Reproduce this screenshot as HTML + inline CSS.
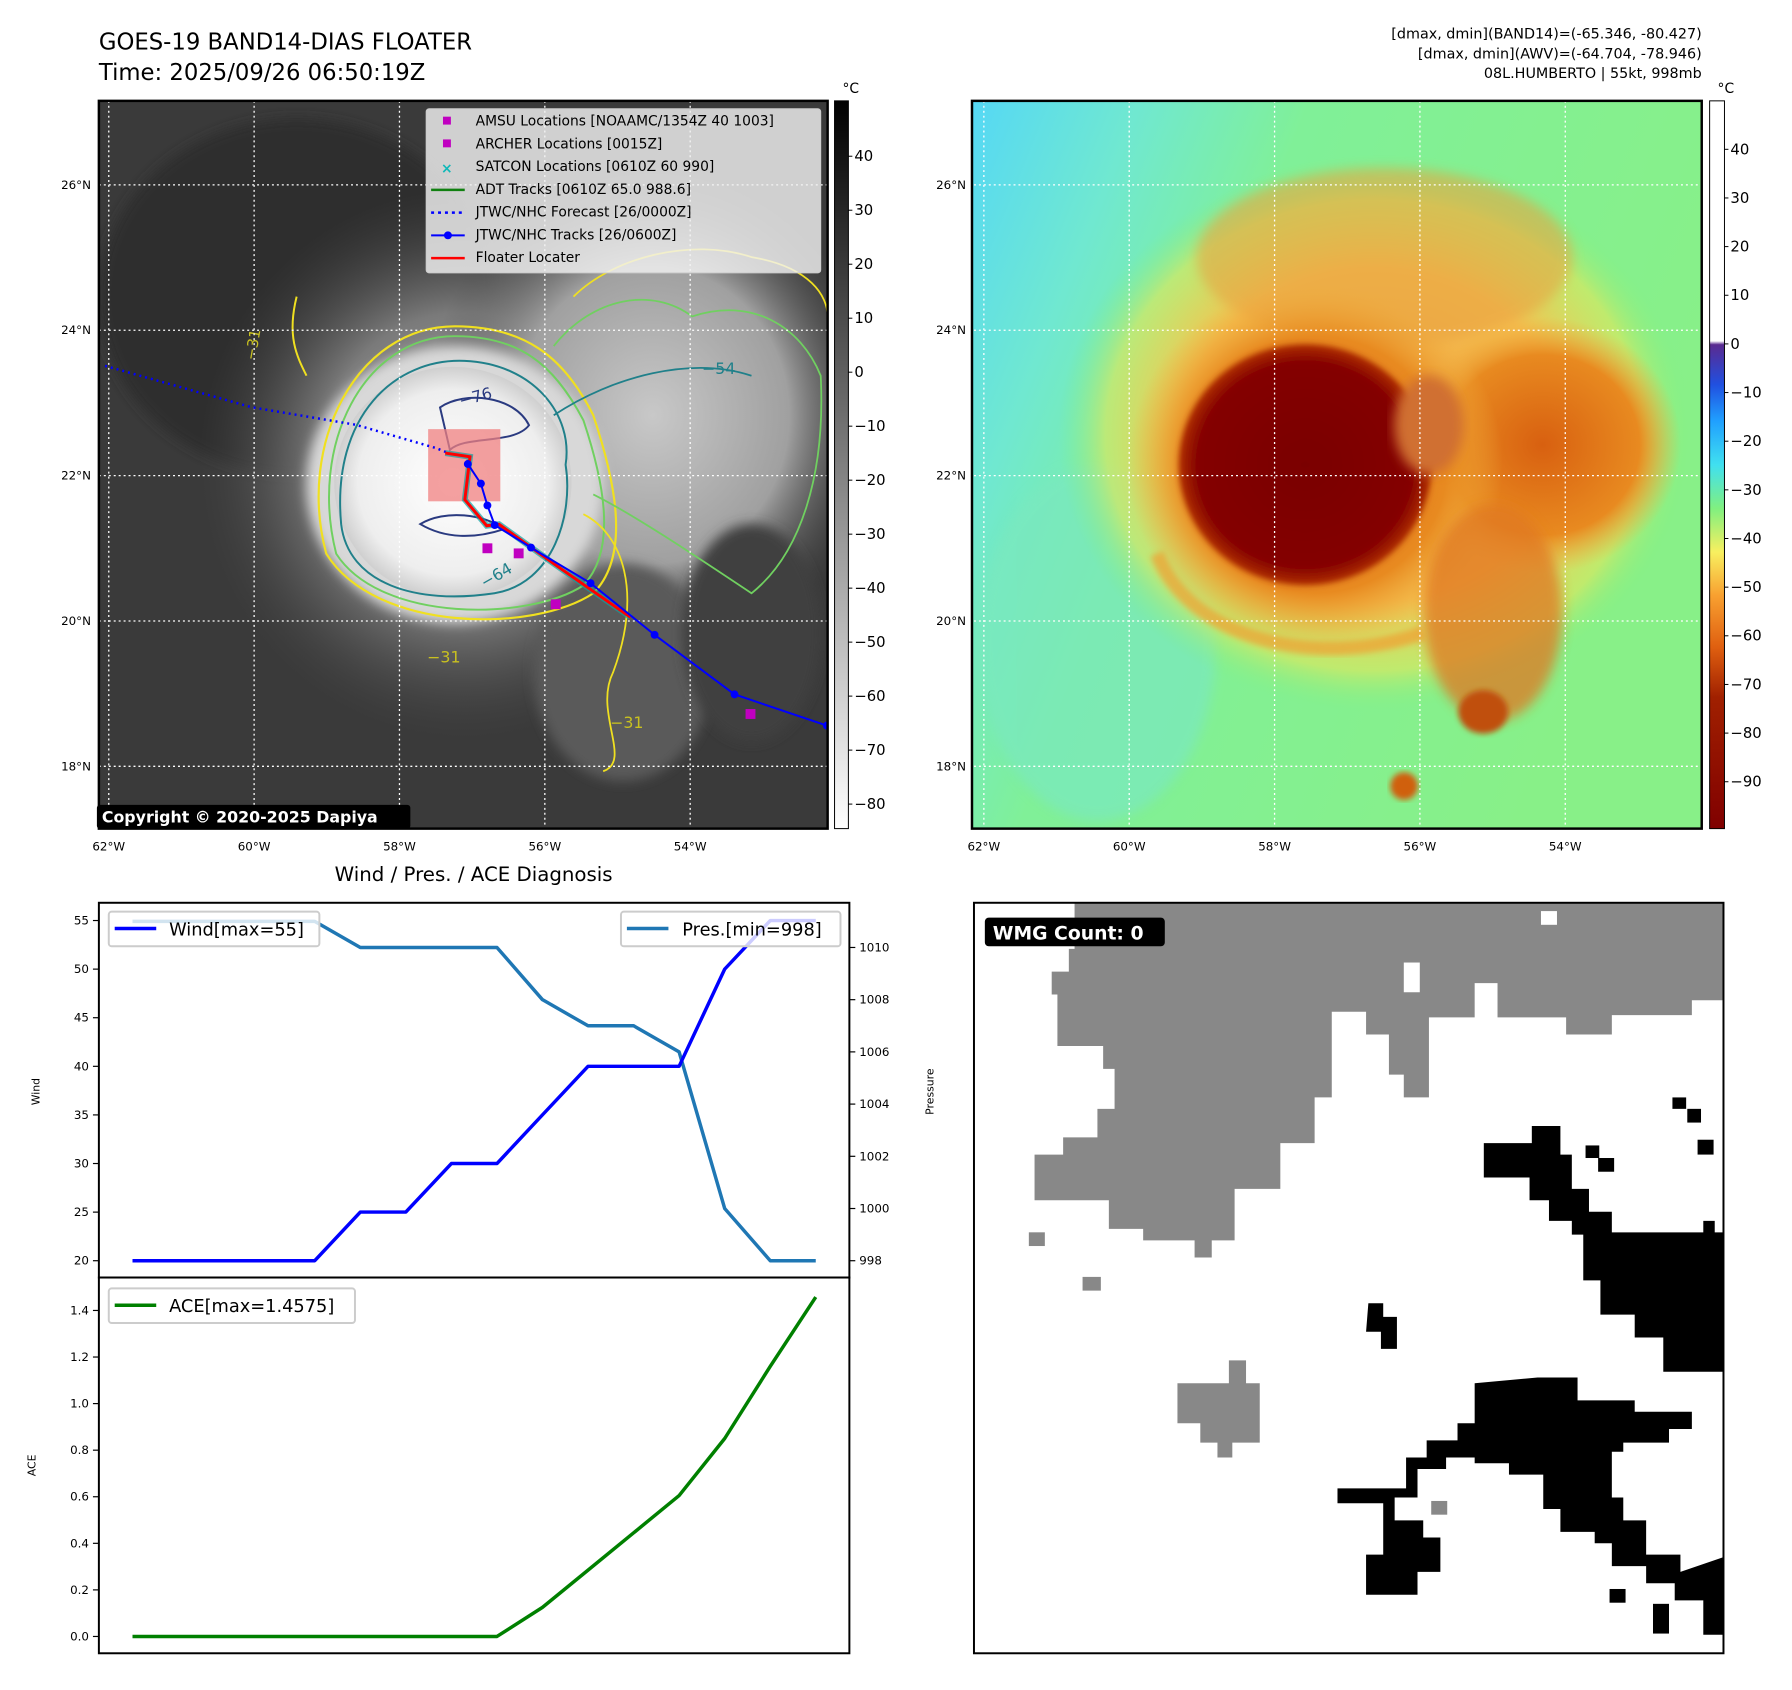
<!DOCTYPE html>
<html><head><meta charset="utf-8">
<style>
html,body{margin:0;padding:0;background:#fff;}
svg{display:block;font-family:"DejaVu Sans","Liberation Sans",sans-serif;}
</style></head>
<body>
<svg id="root" width="1792" height="1690" viewBox="0 0 1792 1690" xmlns="http://www.w3.org/2000/svg">
<defs>
  <radialGradient id="haze1" cx="0.5" cy="0.5" r="0.5">
    <stop offset="0" stop-color="#b0b0b0"/><stop offset="0.55" stop-color="#7a7a7a"/><stop offset="1" stop-color="#444" stop-opacity="0"/>
  </radialGradient>
  <radialGradient id="ne1" cx="0.5" cy="0.5" r="0.5">
    <stop offset="0" stop-color="#c8c8c8"/><stop offset="0.6" stop-color="#a0a0a0"/><stop offset="1" stop-color="#505050" stop-opacity="0"/>
  </radialGradient>
  <radialGradient id="core1" cx="0.5" cy="0.5" r="0.5">
    <stop offset="0" stop-color="#ffffff"/><stop offset="0.8" stop-color="#eeeeee"/><stop offset="1" stop-color="#cfcfcf"/>
  </radialGradient>
  <radialGradient id="env2" cx="0.5" cy="0.5" r="0.5">
    <stop offset="0" stop-color="#f0a040"/><stop offset="0.6" stop-color="#f5c050"/><stop offset="0.85" stop-color="#d8e860" stop-opacity="0.7"/><stop offset="1" stop-color="#80f080" stop-opacity="0"/>
  </radialGradient>
  <radialGradient id="orange2" cx="0.5" cy="0.5" r="0.5">
    <stop offset="0" stop-color="#d86010"/><stop offset="0.7" stop-color="#e88a20"/><stop offset="1" stop-color="#f0b040" stop-opacity="0"/>
  </radialGradient>
  <radialGradient id="core2" cx="0.5" cy="0.5" r="0.5">
    <stop offset="0" stop-color="#7a0000"/><stop offset="0.85" stop-color="#840000"/><stop offset="1" stop-color="#b03000"/>
  </radialGradient>
  <linearGradient id="bg2" x1="0" y1="0" x2="1" y2="0.4">
    <stop offset="0" stop-color="#55d8f5"/><stop offset="0.2" stop-color="#70e8d0"/><stop offset="0.4" stop-color="#80f098"/><stop offset="1" stop-color="#88f088"/>
  </linearGradient>
  <linearGradient id="cb1" x1="0" y1="0" x2="0" y2="1">
    <stop offset="0" stop-color="#000"/><stop offset="1" stop-color="#fff"/>
  </linearGradient>
  <linearGradient id="cb2" x1="0" y1="0" x2="0" y2="1">
    <stop offset="0" stop-color="#ffffff"/><stop offset="0.33" stop-color="#ffffff"/>
    <stop offset="0.335" stop-color="#5a2a90"/><stop offset="0.39" stop-color="#2050e0"/><stop offset="0.44" stop-color="#20a0ff"/>
    <stop offset="0.5" stop-color="#40e0f0"/><stop offset="0.56" stop-color="#80f080"/><stop offset="0.62" stop-color="#f8f060"/>
    <stop offset="0.68" stop-color="#f8a030"/><stop offset="0.75" stop-color="#e06010"/><stop offset="0.82" stop-color="#a02000"/><stop offset="1" stop-color="#800000"/>
  </linearGradient>
  <clipPath id="clip1"><rect x="100" y="102" width="737" height="736"/></clipPath>
  <clipPath id="clip2"><rect x="983" y="102" width="738" height="736"/></clipPath>
  <filter id="blur6"><feGaussianBlur stdDeviation="6"/></filter>
  <filter id="blur3"><feGaussianBlur stdDeviation="3"/></filter>
</defs>
<g transform="scale(0.9888)">
<!-- Titles -->
<text x="100" y="50" font-size="23" fill="#000">GOES-19 BAND14-DIAS FLOATER</text>
<text x="100" y="81" font-size="23" fill="#000">Time: 2025/09/26 06:50:19Z</text>
<g font-size="14.5" text-anchor="end" fill="#000">
  <text x="1721" y="39">[dmax, dmin](BAND14)=(-65.346, -80.427)</text>
  <text x="1721" y="59">[dmax, dmin](AWV)=(-64.704, -78.946)</text>
  <text x="1721" y="79">08L.HUMBERTO | 55kt, 998mb</text>
</g>

<!-- MAP 1 -->
<g clip-path="url(#clip1)">
  <rect x="100" y="102" width="737" height="736" fill="#3a3a3a"/>
  <ellipse cx="300" cy="300" rx="200" ry="180" fill="#2e2e2e" filter="url(#blur6)"/>
  <ellipse cx="470" cy="470" rx="270" ry="280" fill="url(#haze1)"/>
  <ellipse cx="660" cy="420" rx="230" ry="250" fill="url(#ne1)"/>
  <ellipse cx="630" cy="680" rx="90" ry="110" fill="#5a5a5a" filter="url(#blur6)"/>
  <ellipse cx="760" cy="640" rx="70" ry="110" fill="#404040" filter="url(#blur6)"/>
  <ellipse cx="460" cy="490" rx="150" ry="140" fill="#d8d8d8" filter="url(#blur6)"/>
  <ellipse cx="458" cy="488" rx="120" ry="117" fill="url(#core1)"/>
  <!-- contours -->
  <path d="M330,560 C300,450 360,330 460,330 C530,330 570,360 600,420 C620,480 640,560 600,600 C540,640 380,640 330,560 Z" fill="none" stroke="#f0e020" stroke-width="2.2"/>
  <path d="M340,560 C312,450 368,340 460,340 C525,340 560,368 590,425 C610,485 625,555 590,592 C535,628 385,630 340,560 Z" fill="none" stroke="#70d060" stroke-width="2"/>
  <path d="M345,530 C335,420 400,362 470,365 C540,368 580,420 572,470 C580,520 560,590 500,600 C420,612 352,590 345,530 Z" fill="none" stroke="#20808a" stroke-width="2"/>
  <path d="M445,412 C470,395 520,400 535,430 C520,450 470,440 455,455 Z" fill="none" stroke="#2a3a80" stroke-width="2"/>
  <path d="M425,530 C450,515 490,520 510,535 C480,545 450,545 425,530 Z" fill="none" stroke="#2a3a80" stroke-width="2"/>
  <path d="M560,350 C600,300 660,290 700,320 C760,300 810,330 830,380 C835,480 810,560 760,600 C700,560 640,520 600,500" fill="none" stroke="#70d060" stroke-width="1.8"/>
  <path d="M580,300 C620,260 700,240 760,260 C820,270 837,300 837,320" fill="none" stroke="#f0e020" stroke-width="1.8"/>
  <path d="M590,520 C630,540 650,600 620,680 C600,720 640,770 610,780" fill="none" stroke="#f0e020" stroke-width="1.8"/>
  <path d="M300,300 C290,340 300,360 310,380" fill="none" stroke="#f0e020" stroke-width="2"/>
  <path d="M560,420 C620,380 700,360 760,380" fill="none" stroke="#20808a" stroke-width="1.8"/>
  <text x="258" y="365" font-size="15" fill="#c8c020" transform="rotate(-80 258 365)">−31</text>
  <text x="466" y="411" font-size="16" fill="#2a3a80" transform="rotate(-15 466 411)">−76</text>
  <text x="710" y="378" font-size="16" fill="#20808a">−54</text>
  <text x="490" y="595" font-size="16" fill="#20808a" transform="rotate(-30 490 595)">−64</text>
  <text x="432" y="670" font-size="16" fill="#c8c020">−31</text>
  <text x="617" y="736" font-size="16" fill="#c8c020">−31</text>
  <g id="grid1" stroke="#fff" stroke-width="1.3" stroke-dasharray="2,3"></g>
  <rect x="433" y="434" width="73" height="73" fill="#f08080" opacity="0.75"/>
  <g id="tracks1"></g>
</g>
<rect x="100" y="102" width="737" height="736" fill="none" stroke="#000" stroke-width="2.5"/>
<g id="ticks1" font-size="12" fill="#000"></g>
<!-- Legend -->
<g>
  <rect x="431" y="110" width="399" height="166" rx="3" fill="#f2f2f2" fill-opacity="0.82" stroke="#ccc"/>
  <g font-size="14" fill="#000">
    <rect x="448" y="118" width="8" height="8" fill="#c000c0"/><text x="481" y="127">AMSU Locations [NOAAMC/1354Z 40 1003]</text>
    <rect x="448" y="141" width="8" height="8" fill="#c000c0"/><text x="481" y="150">ARCHER Locations [0015Z]</text>
    <text x="446" y="175" fill="#10b8b8" font-size="14" font-weight="bold">×</text><text x="481" y="173">SATCON Locations [0610Z 60 990]</text>
    <line x1="436" y1="192" x2="470" y2="192" stroke="#108010" stroke-width="2.5"/><text x="481" y="196">ADT Tracks [0610Z 65.0 988.6]</text>
    <line x1="436" y1="215" x2="470" y2="215" stroke="#0000ff" stroke-width="2.5" stroke-dasharray="3,4"/><text x="481" y="219">JTWC/NHC Forecast [26/0000Z]</text>
    <line x1="436" y1="238" x2="470" y2="238" stroke="#0000ff" stroke-width="2"/><circle cx="453" cy="238" r="4" fill="#0000ff"/><text x="481" y="242">JTWC/NHC Tracks [26/0600Z]</text>
    <line x1="436" y1="261" x2="470" y2="261" stroke="#ff0000" stroke-width="2.5"/><text x="481" y="265">Floater Locater</text>
  </g>
</g>
<rect x="98" y="814" width="317" height="24" rx="3" fill="#000"/>
<text x="103" y="832" font-size="16" font-weight="bold" fill="#fff">Copyright © 2020-2025 Dapiya</text>
<!-- colorbar 1 -->
<rect x="844" y="102" width="14" height="736" fill="url(#cb1)" stroke="#000" stroke-width="1"/>
<text x="852" y="94" font-size="14">°C</text>
<g id="cbt1" font-size="15"></g>

<!-- MAP 2 -->
<g clip-path="url(#clip2)">
  <rect x="983" y="102" width="738" height="736" fill="url(#bg2)"/>
  <ellipse cx="1110" cy="650" rx="120" ry="180" fill="#7ae8c0" filter="url(#blur6)" opacity="0.7"/>
  <ellipse cx="1390" cy="440" rx="320" ry="280" fill="url(#env2)"/>
  <ellipse cx="1400" cy="260" rx="190" ry="90" fill="#e8a040" opacity="0.55" filter="url(#blur6)"/>
  <ellipse cx="1560" cy="450" rx="140" ry="130" fill="url(#orange2)"/>
  <ellipse cx="1330" cy="470" rx="190" ry="185" fill="url(#orange2)"/>
  <ellipse cx="1510" cy="620" rx="70" ry="110" fill="#e07820" opacity="0.75" filter="url(#blur6)"/>
  <ellipse cx="1320" cy="470" rx="128" ry="122" fill="url(#core2)" filter="url(#blur3)"/>
  <ellipse cx="1445" cy="430" rx="35" ry="50" fill="#d07030" filter="url(#blur6)"/>
  <ellipse cx="1500" cy="720" rx="25" ry="22" fill="#c05010" filter="url(#blur3)"/>
  <ellipse cx="1420" cy="795" rx="14" ry="14" fill="#d06010" filter="url(#blur3)"/>
  <path d="M1170,560 C1200,640 1320,680 1440,640" fill="none" stroke="#f0a030" stroke-width="14" opacity="0.7" filter="url(#blur3)"/>
  <g id="grid2" stroke="#fff" stroke-width="1.3" stroke-dasharray="2,3"></g>
</g>
<rect x="983" y="102" width="738" height="736" fill="none" stroke="#000" stroke-width="2.5"/>
<g id="ticks2" font-size="12" fill="#000"></g>
<rect x="1729" y="102" width="15" height="736" fill="url(#cb2)" stroke="#000" stroke-width="1"/>
<text x="1737" y="94" font-size="14">°C</text>
<g id="cbt2" font-size="15"></g>

<!-- Diagnosis charts -->
<text x="479" y="891" font-size="20" text-anchor="middle">Wind / Pres. / ACE Diagnosis</text>
<rect x="100" y="913" width="759" height="379" fill="#fff" stroke="#000" stroke-width="2"/>
<rect x="100" y="1292" width="759" height="380" fill="#fff" stroke="#000" stroke-width="2"/>
<g id="chart"></g>
<text transform="translate(40 1104) rotate(-90)" font-size="11" text-anchor="middle">Wind</text>
<text transform="translate(944 1104) rotate(-90)" font-size="11" text-anchor="middle">Pressure</text>
<text transform="translate(36 1482) rotate(-90)" font-size="11" text-anchor="middle">ACE</text>
<g>
  <rect x="110" y="922" width="213" height="35" rx="3" fill="#fff" fill-opacity="0.8" stroke="#ccc" stroke-width="2"/>
  <line x1="116" y1="939" x2="158" y2="939" stroke="#0000ff" stroke-width="3.5"/>
  <text x="171" y="946" font-size="18">Wind[max=55]</text>
</g>
<g>
  <rect x="628" y="922" width="222" height="35" rx="3" fill="#fff" fill-opacity="0.8" stroke="#ccc" stroke-width="2"/>
  <line x1="634" y1="939" x2="676" y2="939" stroke="#1f77b4" stroke-width="3.5"/>
  <text x="690" y="946" font-size="18">Pres.[min=998]</text>
</g>
<g>
  <rect x="110" y="1303" width="249" height="35" rx="3" fill="#fff" fill-opacity="0.8" stroke="#ccc" stroke-width="2"/>
  <line x1="116" y1="1320" x2="158" y2="1320" stroke="#008000" stroke-width="3.5"/>
  <text x="171" y="1327" font-size="18">ACE[max=1.4575]</text>
</g>

<!-- WMG panel -->
<g>
  <rect x="985" y="913" width="758" height="759" fill="#fff"/>
  <g transform="scale(1.1561)">
    <path fill="#888" d="M940,790 L1508,790 L1508,875 L1480,875 L1480,888 L1410,888 L1410,905 L1370,905 L1370,890 L1310,890 L1310,860 L1290,860 L1290,890 L1250,890 L1250,960 L1228,960 L1228,940 L1215,940 L1215,905 L1195,905 L1195,885 L1180,885 L1165,885 L1165,960 L1150,960 L1150,1000 L1120,1000 L1120,1040 L1080,1040 L1080,1085 L1060,1085 L1060,1100 L1045,1100 L1045,1085 L1000,1085 L1000,1075 L970,1075 L970,1050 L905,1050 L905,1010 L930,1010 L930,995 L960,995 L960,970 L975,970 L975,935 L965,935 L965,915 L925,915 L925,870 L920,870 L920,850 L935,850 L935,830 L940,830 Z"/>
    <rect x="1348" y="797" width="14" height="12" fill="#fff"/>
    <rect x="1228" y="842" width="14" height="26" fill="#fff"/>
    <path fill="#888" d="M1030,1210 L1075,1210 L1075,1190 L1090,1190 L1090,1210 L1102,1210 L1102,1262 L1078,1262 L1078,1275 L1065,1275 L1065,1262 L1050,1262 L1050,1245 L1030,1245 Z"/>
    <rect x="900" y="1078" width="14" height="12" fill="#888"/>
    <rect x="947" y="1117" width="16" height="12" fill="#888"/>
    <path fill="#000" d="M1298,1000 L1340,1000 L1340,985 L1365,985 L1365,1010 L1375,1010 L1375,1040 L1390,1040 L1390,1060 L1410,1060 L1410,1078 L1490,1078 L1490,1068 L1500,1068 L1500,1078 L1508,1078 L1508,1200 L1455,1200 L1455,1170 L1430,1170 L1430,1150 L1400,1150 L1400,1120 L1385,1120 L1385,1080 L1375,1080 L1375,1068 L1355,1068 L1355,1050 L1338,1050 L1338,1030 L1298,1030 Z"/>
    <rect x="1463" y="960" width="12" height="10" fill="#000"/><rect x="1476" y="970" width="12" height="12" fill="#000"/>
    <rect x="1485" y="997" width="14" height="13" fill="#000"/><rect x="1387" y="1002" width="12" height="11" fill="#000"/><rect x="1398" y="1013" width="14" height="12" fill="#000"/>
    <path fill="#000" d="M1197,1140 L1210,1140 L1210,1152 L1222,1152 L1222,1180 L1208,1180 L1208,1165 L1195,1165 Z"/>
    <path fill="#000" d="M1290,1210 L1345,1205 L1380,1205 L1380,1225 L1430,1225 L1430,1235 L1480,1235 L1480,1250 L1460,1250 L1460,1262 L1420,1262 L1420,1270 L1410,1270 L1410,1310 L1420,1310 L1420,1330 L1440,1330 L1440,1360 L1470,1360 L1470,1375 L1508,1362 L1508,1430 L1490,1430 L1490,1400 L1465,1400 L1465,1385 L1440,1385 L1440,1370 L1410,1370 L1410,1350 L1395,1350 L1395,1340 L1365,1340 L1365,1320 L1350,1320 L1350,1290 L1320,1290 L1320,1280 L1290,1280 L1290,1275 L1265,1275 L1265,1285 L1240,1285 L1240,1310 L1220,1310 L1220,1330 L1245,1330 L1245,1345 L1260,1345 L1260,1375 L1240,1375 L1240,1395 L1195,1395 L1195,1360 L1210,1360 L1210,1315 L1170,1315 L1170,1302 L1230,1302 L1230,1275 L1248,1275 L1248,1260 L1275,1260 L1275,1245 L1290,1245 Z"/>
    <rect x="1252" y="1313" width="14" height="12" fill="#888"/>
    <rect x="1408" y="1390" width="14" height="12" fill="#000"/>
    <rect x="1446" y="1403" width="14" height="26" fill="#000"/>
  </g>
  <rect x="985" y="913" width="758" height="759" fill="none" stroke="#000" stroke-width="2"/>
</g>
<rect x="996" y="928" width="182" height="29" rx="4" fill="#000"/>
<text x="1004" y="950" font-size="19" font-weight="bold" fill="#fff">WMG Count: 0</text>
</g>
<script>
// ---- Diagnosis chart data ----
const windVals = [20,20,20,20,20,25,25,30,30,35,40,40,40,50,55,55];
const presVals = [1011,1011,1011,1011,1011,1010,1010,1010,1010,1008,1007,1007,1006,1000,998,998];
const aceVals = [0,0,0,0,0,0,0,0,0,0.125,0.285,0.445,0.605,0.85,1.16,1.4575];
const windTicks = [20,25,30,35,40,45,50,55];
const presTicks = [998,1000,1002,1004,1006,1008,1010];
const aceTicks = [0.0,0.2,0.4,0.6,0.8,1.0,1.2,1.4];
// ---- Map track data (lon, lat) ----
const trackLon = [-52.12,-53.39,-54.49,-55.37,-56.19,-56.69,-56.79,-56.88,-57.06];
const trackLat = [18.56,18.99,19.81,20.52,21.01,21.32,21.59,21.89,22.16];
const fcstLon = [-62.05,-60.03,-58.6,-57.5,-57.3];
const fcstLat = [23.51,22.94,22.7,22.38,22.3];
const floaterLon = [-57.37,-57.03,-57.10,-56.80,-56.63,-55.88,-54.82];
const floaterLat = [22.31,22.26,21.67,21.31,21.33,20.79,20.05];
const amsuLon = [-56.79,-56.36,-55.85,-53.17];
const amsuLat = [21.0,20.93,20.23,18.72];
const lonTicks = [-62,-60,-58,-56,-54];
const latTicks = [18,20,22,24,26];
const cb1Ticks = [40,30,20,10,0,-10,-20,-30,-40,-50,-60,-70,-80];
const cb2Ticks = [40,30,20,10,0,-10,-20,-30,-40,-50,-60,-70,-80,-90];

const NS='http://www.w3.org/2000/svg';
function mk(tag, attrs, parent){const e=document.createElementNS(NS,tag);for(const k in attrs)e.setAttribute(k,attrs[k]);parent.appendChild(e);return e;}
const chart=document.getElementById('chart');
const xI = i => 134 + i*46.07;
const yWind = w => 1275 - (w-20)*9.83;
const yPres = p => 1275 - (p-998)*26.4;
const yAce = a => 1655 - a*235.5;

function line(vals, fx, fy, color, w, name){
  const pts = vals.map((v,i)=>fx(i).toFixed(1)+','+fy(v).toFixed(1)).join(' ');
  const p = mk('polyline',{points:pts,fill:'none',stroke:color,'stroke-width':w,'stroke-linejoin':'round'},chart);
  
  
}
line(presVals,xI,yPres,'#1f77b4',3.5,'pressure-line');
line(windVals,xI,yWind,'#0000ff',3.5,'wind-line');
line(aceVals,xI,yAce,'#008000',3.5,'ace-line');

windTicks.forEach(t=>{const y=yWind(t);
  mk('line',{x1:94,y1:y,x2:100,y2:y,stroke:'#000','stroke-width':1.2},chart);
  const tx=mk('text',{x:90,y:y+4,'font-size':12,'text-anchor':'end'},chart);tx.textContent=t;
  
  
});
presTicks.forEach(t=>{const y=yPres(t);
  mk('line',{x1:859,y1:y,x2:865,y2:y,stroke:'#000','stroke-width':1.2},chart);
  const tx=mk('text',{x:869,y:y+4,'font-size':12},chart);tx.textContent=t;
  
  
});
aceTicks.forEach(t=>{const y=yAce(t);
  mk('line',{x1:94,y1:y,x2:100,y2:y,stroke:'#000','stroke-width':1.2},chart);
  const tx=mk('text',{x:90,y:y+4,'font-size':12,'text-anchor':'end'},chart);tx.textContent=t.toFixed(1);
  
  
});

// ---- Maps ----
const X = (lon,off) => 110 + (lon+62)*73.5 + off;
const Y = lat => 775 - (lat-18)*73.5;
[['grid1',0,'ticks1'],['grid2',885,'ticks2']].forEach(([gid,off,tid])=>{
  const g=document.getElementById(gid), tk=document.getElementById(tid);
  lonTicks.forEach(l=>{const x=X(l,off);
    mk('line',{x1:x,y1:102,x2:x,y2:838},g);
    const t=mk('text',{x:x,y:860,'text-anchor':'middle'},tk);t.textContent=(-l)+'°W';
    
    
  });
  latTicks.forEach(l=>{const y=Y(l);
    mk('line',{x1:100+off,y1:y,x2:837+off,y2:y},g);
    const t=mk('text',{x:92+off,y:y+4,'text-anchor':'end'},tk);t.textContent=l+'°N';
    
    
  });
});
const tr=document.getElementById('tracks1');
const pl=(lons,lats)=>lons.map((l,i)=>X(l,0).toFixed(1)+','+Y(lats[i]).toFixed(1)).join(' ');
let e;
e=mk('polyline',{points:pl(fcstLon,fcstLat),fill:'none',stroke:'#0000ff','stroke-width':2.5,'stroke-dasharray':'2,4'},tr);


e=mk('polyline',{points:pl(floaterLon,floaterLat),fill:'none',stroke:'#10a0a0','stroke-width':6,opacity:0.7},tr);


e=mk('polyline',{points:pl(floaterLon,floaterLat),fill:'none',stroke:'#ff0000','stroke-width':3},tr);


e=mk('polyline',{points:pl(trackLon,trackLat),fill:'none',stroke:'#0000ff','stroke-width':2},tr);


trackLon.forEach((l,i)=>{const c=mk('circle',{cx:X(l,0),cy:Y(trackLat[i]),r:4,fill:'#0000ff'},tr);
  
  
});
amsuLon.forEach((l,i)=>{const r=mk('rect',{x:X(l,0)-5,y:Y(amsuLat[i])-5,width:10,height:10,fill:'#c000c0'},tr);
  
  
});
// colorbar ticks
const cbt1=document.getElementById('cbt1');
cb1Ticks.forEach(v=>{const y=158+(40-v)*5.46;
  mk('line',{x1:858,y1:y,x2:862,y2:y,stroke:'#000'},cbt1);
  const t=mk('text',{x:864,y:y+5},cbt1);t.textContent=(v<0?'−'+(-v):v);
  
  
});
const cbt2=document.getElementById('cbt2');
cb2Ticks.forEach(v=>{const y=151+(40-v)*4.92;
  mk('line',{x1:1744,y1:y,x2:1748,y2:y,stroke:'#000'},cbt2);
  const t=mk('text',{x:1750,y:y+5},cbt2);t.textContent=(v<0?'−'+(-v):v);
  
  
});
</script>
</svg>
</body></html>
